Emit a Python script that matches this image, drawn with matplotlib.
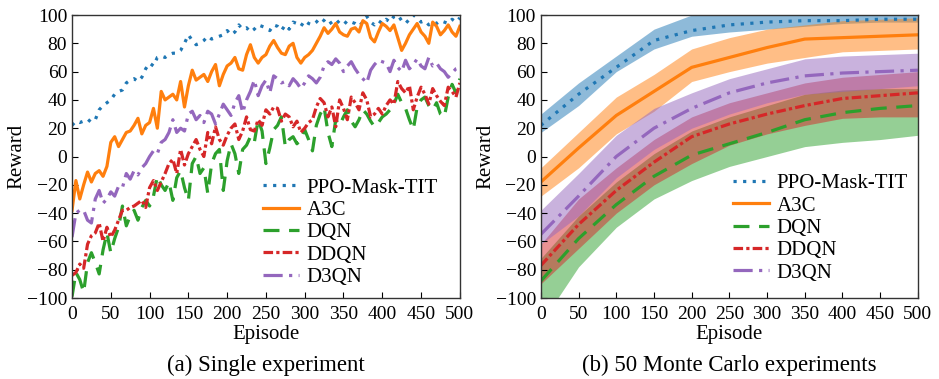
import numpy as np
import matplotlib.pyplot as plt

plt.rcParams['font.family'] = ['Liberation Serif', 'DejaVu Serif']
plt.rcParams['mathtext.fontset'] = 'stix'

# (a) single experiment, one value every 5 episodes
ep_a = np.arange(0, 501, 5)

ppo_a = [22, 25, 24, 25, 24, 27, 26, 33, 36, 38, 40, 44, 46, 47, 52, 54, 55, 53, 56, 62,
         66, 64, 70, 71, 70, 72, 73, 73, 75, 80, 86, 82, 79, 80, 82, 85, 83, 84, 85, 86,
         89, 86, 88, 93, 90, 91, 88, 90, 93, 92, 91, 89, 93, 92, 89, 93, 90, 95, 94, 92,
         96, 94, 93, 95, 98, 96, 93, 95, 97, 94, 93, 96, 95, 94, 92, 95, 99, 95, 93, 96,
         94, 97, 95, 99, 100, 96, 94, 97, 100, 98, 95, 96, 93, 95, 94, 96, 95, 94, 97, 95, 98]
a3c_a = [-38, -17, -30, -20, -11, -18, -12, -10, -14, -7, 10, 14, 7, 12, 17, 18, 22, 27, 16, 22,
         24, 34, 20, 46, 40, 42, 44, 40, 53, 35, 50, 61, 54, 56, 58, 53, 60, 65, 50, 58,
         64, 66, 70, 62, 61, 72, 79, 70, 66, 70, 72, 78, 82, 77, 73, 72, 78, 80, 70, 66,
         70, 72, 75, 80, 85, 91, 87, 90, 94, 88, 86, 85, 90, 91, 88, 96, 94, 84, 81, 88,
         94, 92, 89, 93, 84, 75, 80, 86, 90, 94, 88, 85, 80, 95, 92, 86, 89, 93, 88, 85, 92]
dqn_a = [-99, -82, -87, -96, -75, -68, -75, -83, -66, -54, -68, -58, -50, -35, -49, -42, -38, -45, -36, -31,
         -35, -28, -14, -20, -24, -18, -31, -15, -10, -22, -31, -5, 0, -12, -8, -26, -5, 2, 5, -24,
         -3, 9, 2, -12, 5, 8, 14, 10, 26, 18, -5, 6, 19, 22, 28, 7, 12, 14, 9, 12,
         19, 12, 4, 22, 30, 35, 17, 7, 26, 22, 28, 33, 25, 21, 26, 33, 30, 25, 21, 24,
         28, 30, 33, 37, 44, 38, 34, 26, 19, 35, 40, 42, 36, 33, 38, 30, 28, 42, 51, 45, 55]
ddqn_a = [-84, -82, -76, -79, -62, -56, -54, -47, -60, -50, -57, -52, -45, -38, -38, -36, -35, -33, -31, -36,
          -22, -17, -24, -18, -12, -5, -2, -12, 5, -6, 2, 7, 12, 5, 0, 17, 9, 21, 12, 8,
          15, 20, 23, 12, 18, 28, 19, 18, 26, 22, 33, 30, 35, 34, 25, 30, 28, 21, 25, 17,
          20, 24, 26, 35, 41, 38, 28, 35, 21, 40, 34, 26, 42, 38, 33, 45, 40, 28, 30, 34,
          30, 36, 40, 37, 53, 48, 45, 50, 33, 42, 49, 44, 37, 48, 43, 39, 36, 49, 46, 42, 52]
d3qn_a = [-57, -40, -38, -38, -45, -47, -30, -24, -33, -30, -25, -28, -21, -22, -12, -16, -10, -13, -8, -5,
          0, 4, 2, 10, 12, 17, 26, 17, 20, 18, 30, 32, 26, 29, 24, 32, 30, 23, 30, 37,
          33, 29, 38, 43, 31, 40, 46, 54, 43, 50, 54, 45, 57, 55, 52, 53, 50, 55, 52, 48,
          52, 57, 55, 52, 56, 64, 67, 65, 69, 66, 60, 64, 67, 62, 58, 55, 52, 61, 65, 68,
          67, 66, 60, 68, 63, 60, 68, 62, 65, 69, 64, 62, 70, 64, 66, 62, 60, 56, 59, 62, 63]

# (b) 50 Monte Carlo runs: mean and band, every 50 episodes
ep_b = np.arange(0, 501, 50)

ppo_mean = [22, 44, 63, 82, 89, 93, 95, 96, 96, 97, 97]
ppo_lo = [17, 36, 60, 76, 85, 88, 90, 92, 94, 95, 95]
ppo_hi = [30, 52, 71, 90, 100, 102, 102, 102, 102, 102, 102]
a3c_mean = [-18, 6, 29, 46, 63, 70, 77, 83, 84, 85, 86]
a3c_lo = [-28, -8, 16, 32, 53, 60, 66, 70, 74, 75, 76]
a3c_hi = [-8, 17, 42, 58, 76, 84, 90, 93, 96, 97, 98]
dqn_mean = [-88, -58, -34, -14, 1, 9, 17, 26, 31, 34, 36]
dqn_lo = [-118, -78, -50, -30, -17, -7, 0, 7, 10, 12, 15]
dqn_hi = [-72, -42, -18, 2, 18, 28, 36, 44, 47, 48, 48]
ddqn_mean = [-77, -48, -24, -4, 14, 23, 30, 36, 41, 43, 45]
ddqn_lo = [-90, -65, -40, -20, -5, 8, 16, 22, 27, 28, 28]
ddqn_hi = [-62, -30, -8, 12, 28, 38, 45, 52, 56, 58, 60]
d3qn_mean = [-55, -28, 0, 20, 34, 45, 52, 57, 59, 60, 61]
d3qn_lo = [-62, -42, -15, 5, 20, 30, 38, 44, 46, 48, 50]
d3qn_hi = [-38, -12, 15, 34, 45, 55, 62, 69, 71, 72, 73]

labels = ['PPO-Mask-TIT', 'A3C', 'DQN', 'DDQN', 'D3QN']
colors = ['#1f77b4', '#ff7f0e', '#2ca02c', '#d62728', '#9467bd']
styles = [(0, (1, 2)), '-', (0, (5, 3)), (0, (3, 1, 1, 1)), (0, (6, 2, 1, 2))]


def style_axes(ax, anchor):
    ax.set_xlim(0, 500)
    ax.set_ylim(-100, 100)
    ax.set_xticks(np.arange(0, 501, 50))
    ax.set_yticks(np.arange(-100, 101, 20))
    ax.tick_params(direction='in', labelsize=14, length=4, top=False, right=False)
    ax.tick_params(axis='x', pad=6)
    for s in ax.spines.values():
        s.set_linewidth(1.0)
        s.set_color('#333333')
    ax.set_xlabel('Episode', fontsize=15, labelpad=1)
    ax.set_ylabel('Reward', fontsize=15, labelpad=0)
    ax.legend(loc='lower right', bbox_to_anchor=anchor, borderaxespad=0,
              frameon=False, fontsize=15, handlelength=1.75, handletextpad=0.35,
              labelspacing=0.13)


fig = plt.figure(figsize=(9.39, 3.79), dpi=100)
ax1 = fig.add_axes([0.0767, 0.2137, 0.413, 0.7467])
ax2 = fig.add_axes([0.576, 0.2137, 0.4015, 0.7467])

series_a = [ppo_a, a3c_a, dqn_a, ddqn_a, d3qn_a]
for y, lab, c, ls in zip(series_a, labels, colors, styles):
    ax1.plot(ep_a, y, color=c, ls=ls, lw=2.3, label=lab)
style_axes(ax1, (0.965, 0.01))

means = [ppo_mean, a3c_mean, dqn_mean, ddqn_mean, d3qn_mean]
los = [ppo_lo, a3c_lo, dqn_lo, ddqn_lo, d3qn_lo]
his = [ppo_hi, a3c_hi, dqn_hi, ddqn_hi, d3qn_hi]
for m, lo, hi, lab, c, ls in zip(means, los, his, labels, colors, styles):
    ax2.fill_between(ep_b, lo, hi, color=c, alpha=0.5, lw=0)
    ax2.plot(ep_b, m, color=c, ls=ls, lw=2.3, label=lab)
style_axes(ax2, (0.995, 0.025))

fig.text(0.283, 0.022, '(a) Single experiment', ha='center', fontsize=16.5)
fig.text(0.777, 0.022, '(b) 50 Monte Carlo experiments', ha='center', fontsize=16.5)

fig.savefig('out.png', dpi=100)
